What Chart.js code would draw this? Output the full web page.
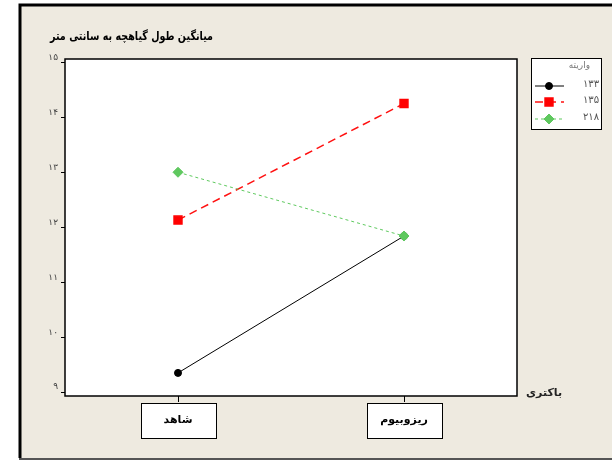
<!DOCTYPE html>
<html>
<head>
<meta charset="utf-8">
<script src="https://cdn.jsdelivr.net/npm/chart.js@4"></script>
<style>
  body { margin: 0; background: #fff; overflow: hidden; }
  #wrap { width: 612px; height: 461px; }
</style>
</head>
<body>
<div id="wrap"><canvas id="plotChart" width="612" height="461"></canvas></div>
<script>
// data
var categories = ['شاهد', 'ریزوبیوم'];
var seriesNames = ['۱۳۳', '۱۳۵', '۲۱۸'];
var v133 = [9.35, 11.84];
var v135 = [12.13, 14.25];
var v218 = [13.0, 11.84];
var yTicks = [9, 10, 11, 12, 13, 14, 15];
var yTickLabels = ['۹', '۱۰', '۱۱', '۱۲', '۱۳', '۱۴', '۱۵'];
var titleText = 'میانگین طول گیاهچه به سانتی متر';
var xTitle = 'باکتری';
var legendTitle = 'واریته';

var font = '"DejaVu Sans", sans-serif';

var framePlugin = {
    id: 'frame',
    beforeDraw: function(chart) {
        var c = chart.ctx;
        c.save();
        c.fillStyle = '#fff';
        c.fillRect(0, 0, chart.width, chart.height);
        c.fillStyle = '#eeeae0';
        c.fillRect(20, 5, chart.width - 20, 453);
        c.strokeStyle = '#000';
        c.lineWidth = 3;
        c.beginPath();
        c.moveTo(chart.width, 5);
        c.lineTo(20, 5);
        c.lineTo(20, 458);
        c.stroke();
        c.strokeStyle = '#555';
        c.lineWidth = 2;
        c.beginPath();
        c.moveTo(19, 459);
        c.lineTo(chart.width, 459);
        c.stroke();
        var a = chart.chartArea;
        c.fillStyle = '#fff';
        c.fillRect(a.left, a.top, a.right - a.left, a.bottom - a.top);
        // boxes round the category labels, drawn before the axis text
        var xs = chart.scales.x;
        c.strokeStyle = '#000';
        c.lineWidth = 1;
        categories.forEach(function(cat, i) {
            var px = Math.round(xs.getPixelForValue(i)) + 0.5;
            c.fillStyle = '#fff';
            c.fillRect(px - 37, a.bottom + 7, 75, 35);
            c.strokeRect(px - 37, a.bottom + 7.5, 75, 35);
        });
        c.restore();
    },
    beforeDatasetsDraw: function(chart) {
        var c = chart.ctx, a = chart.chartArea;
        c.save();
        c.strokeStyle = '#000';
        c.lineWidth = 1.5;
        c.strokeRect(a.left, a.top, a.right - a.left, a.bottom - a.top);
        c.restore();
    },
    afterDraw: function(chart) {
        var c = chart.ctx;
        c.save();
        c.fillStyle = '#000';
        c.textBaseline = 'middle';
        c.textAlign = 'left';
        // title, squeezed to the width it has in the picture
        c.font = 'bold 12px ' + font;
        var tw = c.measureText(titleText).width;
        c.save();
        c.translate(50, 37);
        c.scale(163 / tw, 1);
        c.fillText(titleText, 0, 0);
        c.restore();
        c.font = 'bold 11px ' + font;
        c.fillStyle = '#222';
        c.fillText(xTitle, 526, 393);

        // legend
        c.fillStyle = '#fff';
        c.fillRect(531, 58, 70, 71);
        c.strokeStyle = '#000';
        c.lineWidth = 1;
        c.strokeRect(531.5, 58.5, 70, 71);
        c.font = '9px ' + font;
        c.fillStyle = '#777';
        c.textAlign = 'right';
        c.fillText(legendTitle, 590, 66);
        var rowsY = [86, 102, 119];
        chart.data.datasets.forEach(function(ds, i) {
            var y = rowsY[i];
            c.strokeStyle = ds.borderColor;
            c.lineWidth = ds.borderWidth;
            c.setLineDash(ds.borderDash || []);
            c.beginPath();
            c.moveTo(535, y);
            c.lineTo(564, y);
            c.stroke();
            c.setLineDash([]);
            c.fillStyle = ds.pointBackgroundColor;
            c.strokeStyle = ds.pointBorderColor;
            Chart.helpers.drawPoint(c, {
                pointStyle: ds.pointStyle,
                radius: ds.pointRadius,
                borderWidth: 1,
                rotation: 0
            }, 549, y);
            c.fillStyle = '#555';
            c.textAlign = 'right';
            c.font = '10px ' + font;
            c.fillText(ds.label, 599, y - 2);
        });
        c.restore();
    }
};

var ctx = document.getElementById('plotChart');
var plotChart = new Chart(ctx, {
    type: 'line',
    data: {
        labels: categories,
        datasets: [{
            label: seriesNames[0],
            data: v133,
            order: 3,
            borderColor: '#000',
            borderWidth: 1,
            pointStyle: 'circle',
            pointRadius: 3.5,
            pointBackgroundColor: '#000',
            pointBorderColor: '#000'
        }, {
            label: seriesNames[1],
            data: v135,
            order: 2,
            borderColor: '#ff1010',
            borderWidth: 1.5,
            borderDash: [8, 5],
            pointStyle: 'rect',
            pointRadius: 5.6,
            pointBackgroundColor: '#ff0000',
            pointBorderColor: '#ff0000'
        }, {
            label: seriesNames[2],
            data: v218,
            order: 1,
            borderColor: '#5fca5f',
            borderWidth: 1,
            borderDash: [3, 3],
            pointStyle: 'rectRot',
            pointRadius: 5,
            pointBackgroundColor: '#5fc85f',
            pointBorderColor: '#5fc85f'
        }]
    },
    options: {
        responsive: false,
        animation: false,
        layout: {
            padding: { left: 40, right: 95, top: 59, bottom: 15 }
        },
        plugins: {
            legend: { display: false },
            title: { display: false },
            tooltip: { enabled: false }
        },
        scales: {
            x: {
                offset: true,
                border: { display: false },
                grid: { drawOnChartArea: false, tickLength: 6, color: '#000', offset: false },
                ticks: {
                    color: '#000',
                    padding: 12,
                    font: { family: font, size: 11, weight: 'bold' }
                },
                afterFit: function(s) { s.height = 50; }
            },
            y: {
                min: 8.93,
                max: 15.06,
                border: { display: false },
                grid: { drawOnChartArea: false, tickLength: 4, color: '#000' },
                afterBuildTicks: function(s) {
                    s.ticks = yTicks.map(function(v) { return { value: v }; });
                },
                ticks: {
                    color: '#444',
                    padding: 3,
                    labelOffset: -5,
                    font: { family: font, size: 9 },
                    callback: function(v) { return yTickLabels[yTicks.indexOf(v)]; }
                },
                afterFit: function(s) { s.width = 25; }
            }
        }
    },
    plugins: [framePlugin]
});
</script>
</body>
</html>
